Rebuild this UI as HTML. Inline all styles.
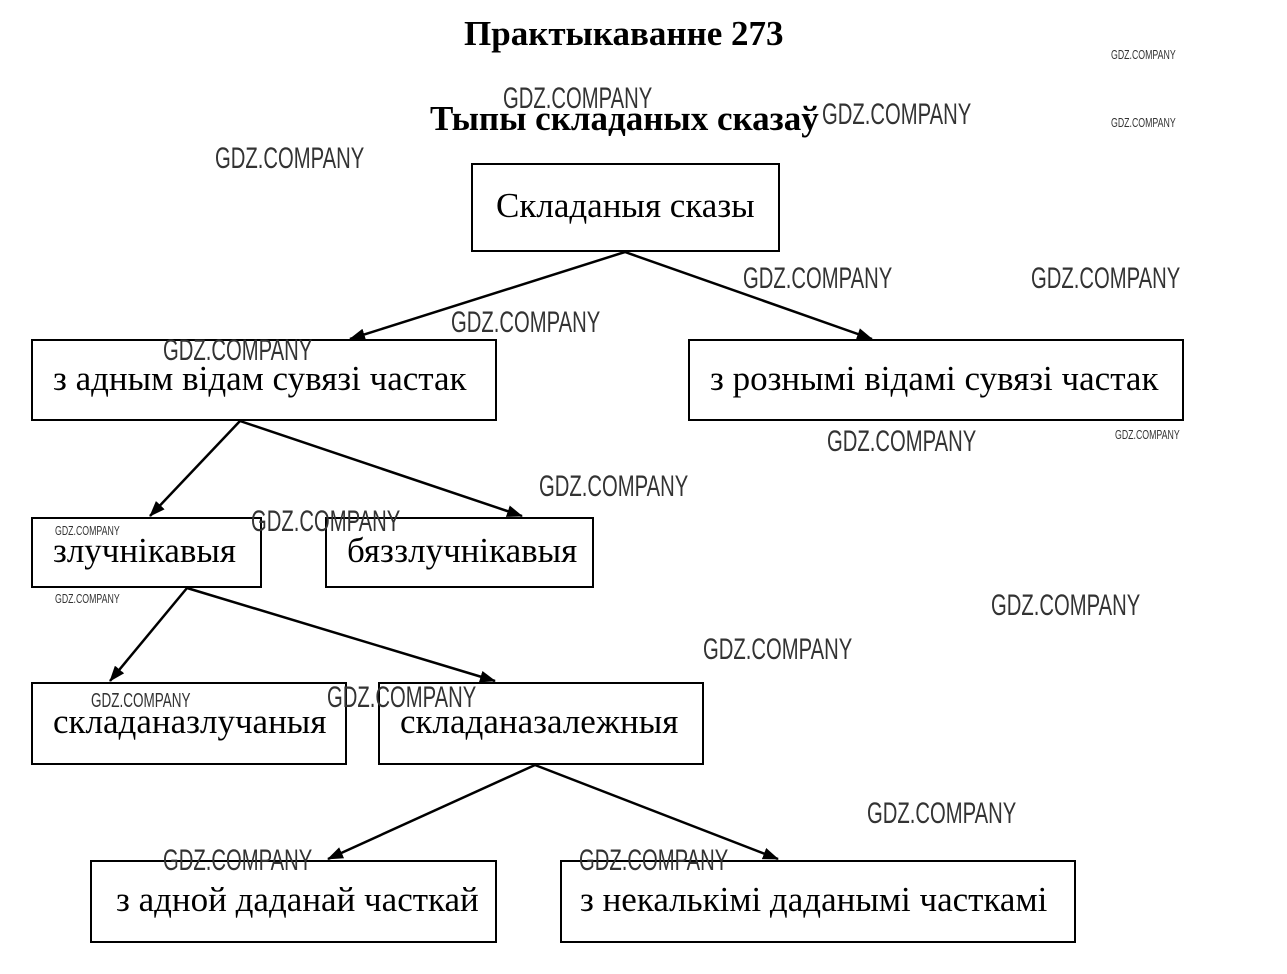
<!DOCTYPE html>
<html><head><meta charset="utf-8"><style>
body{margin:0;background:#fff;}
#c{position:relative;width:1287px;height:974px;overflow:hidden;font-family:"Liberation Serif",serif;color:#000;}
.b{position:absolute;border:2px solid #000;box-sizing:border-box;font-size:35px;line-height:1;display:flex;align-items:center;padding-left:20px;padding-bottom:4px;white-space:nowrap;}
.t{position:absolute;font-weight:bold;font-size:35px;white-space:nowrap;}
.w{position:absolute;font-family:"Liberation Sans",sans-serif;color:#333;white-space:nowrap;transform-origin:0 0;transform:scaleX(0.675);}
.w.l{font-size:30px}
.w.s{font-size:13px}
svg{position:absolute;left:0;top:0}
</style></head><body><div id="c">
<div class="t" style="left:464px;top:14px">Практыкаванне 273</div>
<div class="t" style="left:430px;top:99px">Тыпы складаных сказаў</div>

<div class="b" style="left:471px;top:163px;width:309px;height:89px;padding-left:23px">Складаныя сказы</div>
<div class="b" style="left:31px;top:339px;width:466px;height:82px">з адным відам сувязі частак</div>
<div class="b" style="left:688px;top:339px;width:496px;height:82px">з рознымі відамі сувязі частак</div>
<div class="b" style="left:31px;top:517px;width:231px;height:71px">злучнікавыя</div>
<div class="b" style="left:325px;top:517px;width:269px;height:71px">бяззлучнікавыя</div>
<div class="b" style="left:31px;top:682px;width:316px;height:83px">складаназлучаныя</div>
<div class="b" style="left:378px;top:682px;width:326px;height:83px">складаназалежныя</div>
<div class="b" style="left:90px;top:860px;width:407px;height:83px;padding-left:24px">з адной даданай часткай</div>
<div class="b" style="left:560px;top:860px;width:516px;height:83px;padding-left:18px">з некалькімі даданымі часткамі</div>

<svg width="1287" height="974">
<defs><marker id="m" markerWidth="16" markerHeight="12" refX="15" refY="6" orient="auto" markerUnits="userSpaceOnUse"><path d="M0,0 L16,6 L0,12 Z" fill="#000"/></marker></defs>
<g stroke="#000" stroke-width="2.5" fill="none" marker-end="url(#m)">
<line x1="625" y1="252" x2="350" y2="339"/>
<line x1="625" y1="252" x2="872" y2="339"/>
<line x1="240" y1="421" x2="150" y2="516"/>
<line x1="240" y1="421" x2="522" y2="516"/>
<line x1="187" y1="588" x2="110" y2="681"/>
<line x1="187" y1="588" x2="495" y2="681"/>
<line x1="535" y1="765" x2="328" y2="859"/>
<line x1="535" y1="765" x2="778" y2="859"/>
</g></svg>

<div class="w l" style="left:503px;top:82px">GDZ.COMPANY</div>
<div class="w l" style="left:822px;top:98px">GDZ.COMPANY</div>
<div class="w l" style="left:215px;top:142px">GDZ.COMPANY</div>
<div class="w l" style="left:743px;top:262px">GDZ.COMPANY</div>
<div class="w l" style="left:1031px;top:262px">GDZ.COMPANY</div>
<div class="w l" style="left:451px;top:306px">GDZ.COMPANY</div>
<div class="w l" style="left:163px;top:334px">GDZ.COMPANY</div>
<div class="w l" style="left:827px;top:425px">GDZ.COMPANY</div>
<div class="w l" style="left:539px;top:470px">GDZ.COMPANY</div>
<div class="w l" style="left:251px;top:505px">GDZ.COMPANY</div>
<div class="w l" style="left:991px;top:589px">GDZ.COMPANY</div>
<div class="w l" style="left:703px;top:633px">GDZ.COMPANY</div>
<div class="w l" style="left:327px;top:681px">GDZ.COMPANY</div>
<div class="w l" style="left:867px;top:797px">GDZ.COMPANY</div>
<div class="w l" style="left:163px;top:844px">GDZ.COMPANY</div>
<div class="w l" style="left:579px;top:844px">GDZ.COMPANY</div>
<div class="w" style="left:91px;top:690px;font-size:20px">GDZ.COMPANY</div>
<div class="w s" style="left:1111px;top:47px">GDZ.COMPANY</div>
<div class="w s" style="left:1111px;top:115px">GDZ.COMPANY</div>
<div class="w s" style="left:1115px;top:427px">GDZ.COMPANY</div>
<div class="w s" style="left:55px;top:523px">GDZ.COMPANY</div>
<div class="w s" style="left:55px;top:591px">GDZ.COMPANY</div>
</div></body></html>
